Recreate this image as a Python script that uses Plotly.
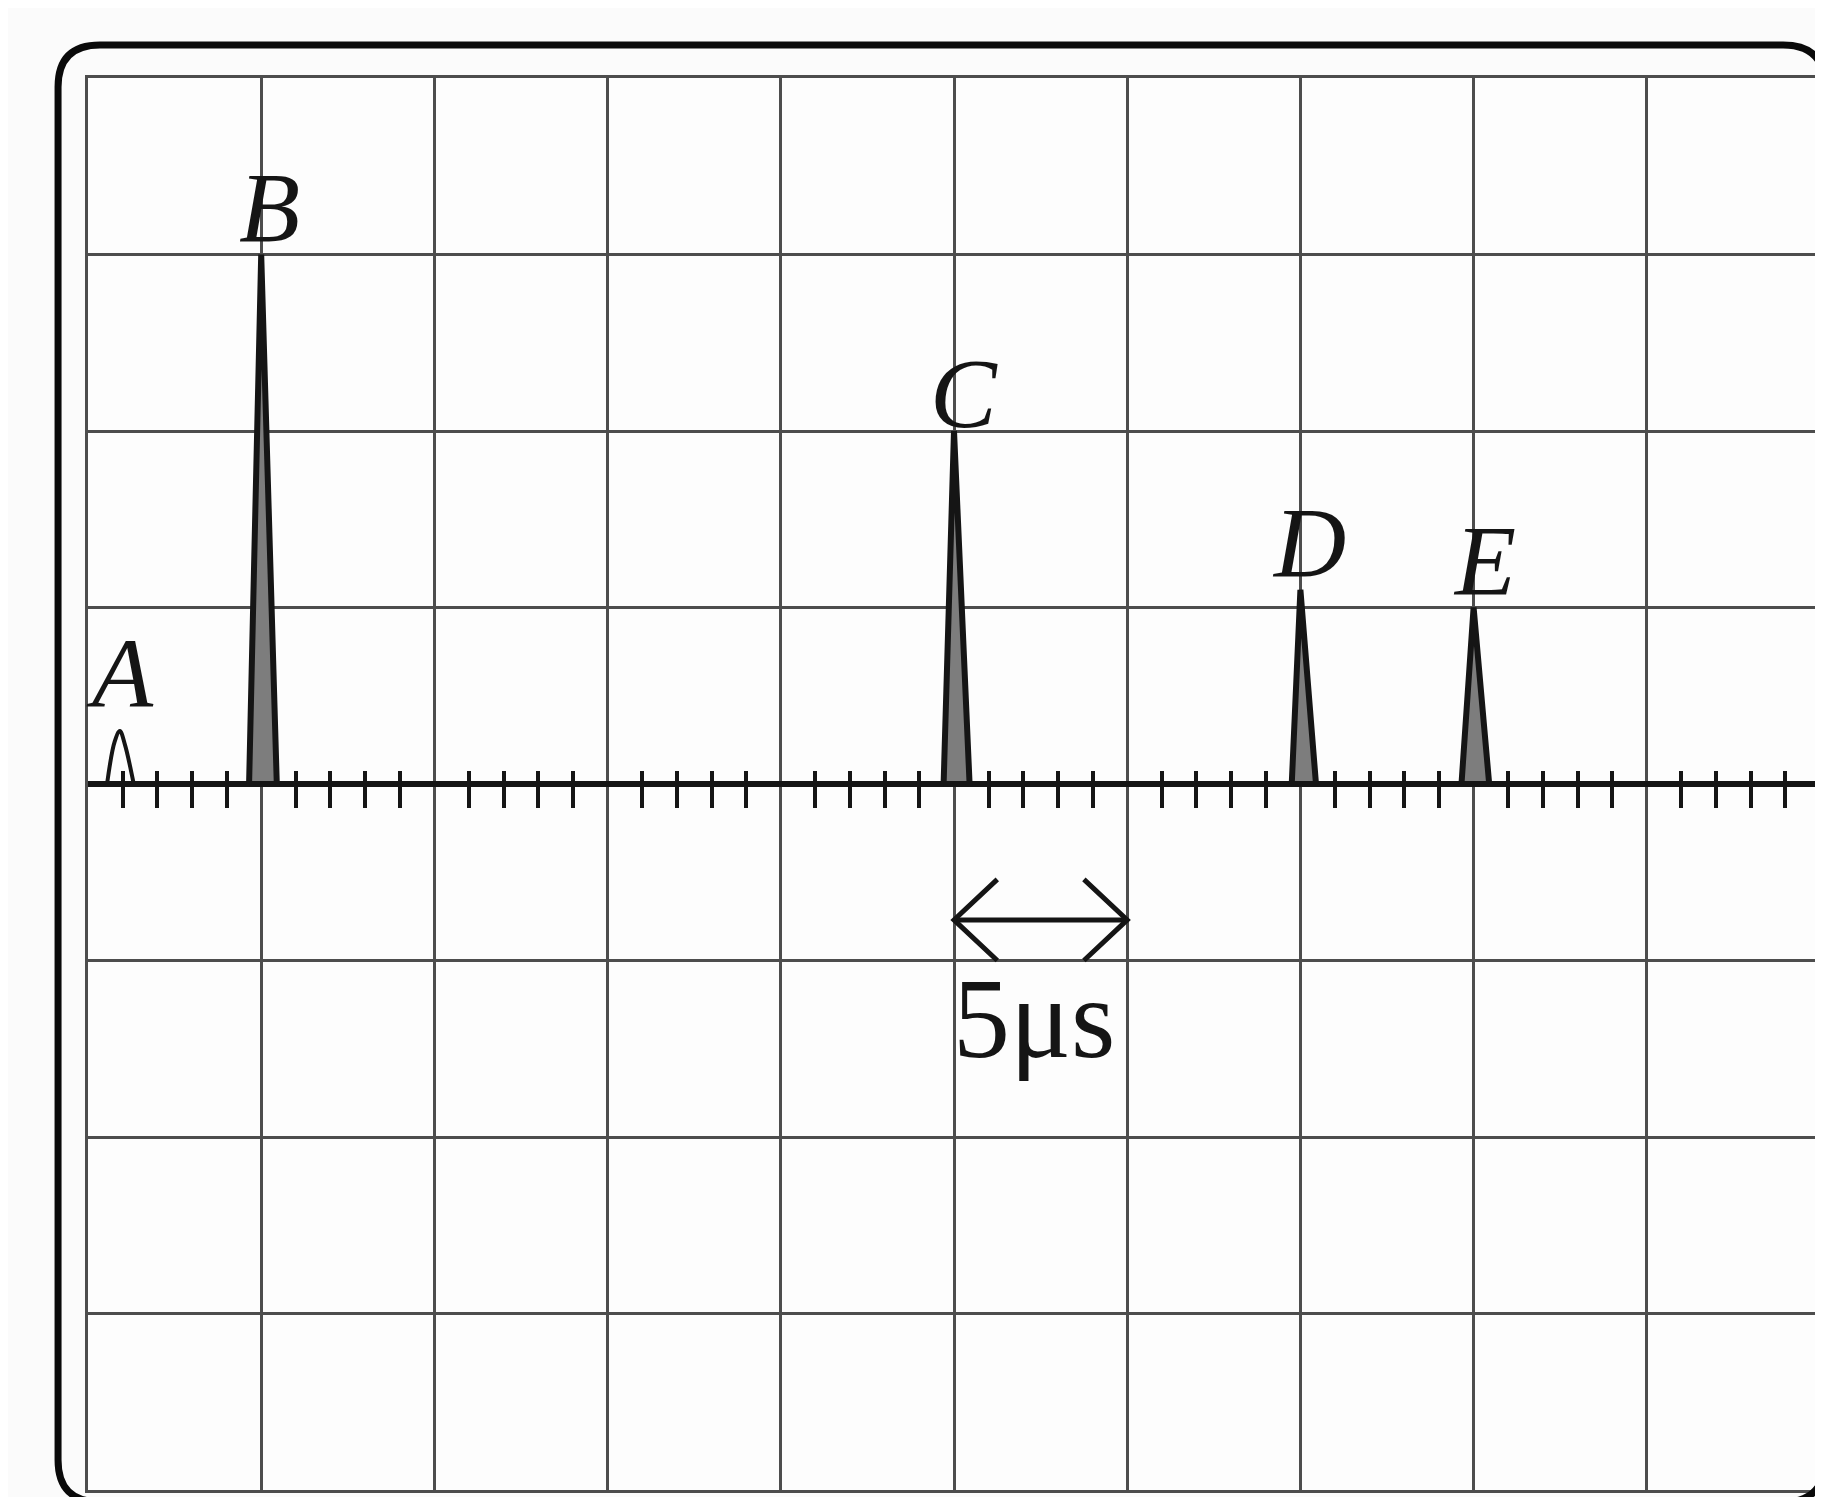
import plotly.graph_objects as go

# oscilloscope screen, 10 x 8 divisions, time base 5 us / div
SWEEP_US = [0, 50]
SCREEN_DIV = [-4, 4]
US_PER_DIV = 5

# echo pulses (time in us, height in divisions)
PULSE_LABELS = ["B", "C", "D", "E"]
PULSE_PEAK_US = [5.0, 25.0, 35.0, 40.0]
PULSE_HEIGHT_DIV = [3.0, 2.0, 1.1, 1.0]
PULSE_START_US = [4.65, 24.7, 34.75, 39.65]
PULSE_END_US = [5.45, 25.45, 35.45, 40.45]

# small blip A at the start of the sweep
BLIP_LABEL = "A"
BLIP_T_US = [0.55, 0.77, 0.92, 1.07, 1.32]
BLIP_V_DIV = [0, 0.24, 0.3, 0.22, 0]

# scale bar under C
SCALE_BAR_US = [25, 30]
SCALE_BAR_TEXT = "5μs"

W, H = 1823, 1497
M = dict(l=80, r=8, t=70, b=15)
GRID = "#4d4d4d"
INK = "#151515"
SERIF = "Liberation Serif"

pw = W - M["l"] - M["r"]
ph = H - M["t"] - M["b"]


def paper_x(px):
    return (px - M["l"]) / pw


def paper_y(py):
    return (H - M["b"] - py) / ph


fig = go.Figure()

# trace baseline
fig.add_trace(go.Scatter(x=SWEEP_US, y=[0, 0], mode="lines",
                         line=dict(color=INK, width=6), hoverinfo="skip"))

# pulses, drawn as thin filled spikes
for start, peak, end, h in zip(PULSE_START_US, PULSE_PEAK_US, PULSE_END_US, PULSE_HEIGHT_DIV):
    fig.add_trace(go.Scatter(
        x=[start, peak, end, start], y=[0, h, 0, 0],
        mode="lines", fill="toself", fillcolor="#7d7d7d",
        line=dict(color=INK, width=6), hoverinfo="skip"))

fig.add_trace(go.Scatter(x=BLIP_T_US, y=BLIP_V_DIV, mode="lines",
                         line=dict(color=INK, width=4, shape="spline"),
                         hoverinfo="skip"))

# dummy traces so the tick-mark axes get drawn
for ax in ["x2", "x3"]:
    fig.add_trace(go.Scatter(x=SWEEP_US, y=[0, 0], xaxis=ax, yaxis="y",
                             mode="lines", line=dict(width=0), hoverinfo="skip"))

# labels (pixel nudges so the italic letters sit on the peaks like in the print)
label_xshift = {"A": 0, "B": 8, "C": 10, "D": 9, "E": 11}
label_yshift = {"A": 0, "B": -10, "C": -20, "D": -10, "E": -10}
labels = [(BLIP_LABEL, BLIP_T_US[2], max(BLIP_V_DIV))] + list(zip(PULSE_LABELS, PULSE_PEAK_US, PULSE_HEIGHT_DIV))
for name, t, h in labels:
    fig.add_annotation(x=t, y=h, text="<i>%s</i>" % name, showarrow=False,
                       xanchor="center", yanchor="bottom",
                       xshift=label_xshift[name], yshift=label_yshift[name],
                       font=dict(family=SERIF, size=100, color=INK))

# 5 us scale arrow
ya = -0.77
x0, x1 = SCALE_BAR_US
hx, hy = 1.25, 0.23
fig.add_shape(type="line", x0=x0, x1=x1, y0=ya, y1=ya, line=dict(color=INK, width=5))
fig.add_shape(type="path", path=f"M {x0 + hx},{ya + hy} L {x0},{ya} L {x0 + hx},{ya - hy}",
              line=dict(color=INK, width=5))
fig.add_shape(type="path", path=f"M {x1 - hx},{ya + hy} L {x1},{ya} L {x1 - hx},{ya - hy}",
              line=dict(color=INK, width=5))
fig.add_annotation(x=(x0 + x1) / 2, y=-1.0, text=SCALE_BAR_TEXT, showarrow=False,
                   xanchor="center", yanchor="top", xshift=-7, yshift=8,
                   font=dict(family=SERIF, size=114, color=INK))

# rounded bezel around the screen
bx0, bx1 = paper_x(50), paper_x(1820)
by0, by1 = paper_y(1494), paper_y(37)
rx, ry = 42 / pw, 42 / ph
bezel = (f"M {bx0},{by1 - ry} Q {bx0},{by1} {bx0 + rx},{by1} "
         f"L {bx1 - rx},{by1} Q {bx1},{by1} {bx1},{by1 - ry} "
         f"L {bx1},{by0 + ry} Q {bx1},{by0} {bx1 - rx},{by0} "
         f"L {bx0 + rx},{by0} Q {bx0},{by0} {bx0},{by0 + ry} Z")
fig.add_shape(type="path", xref="paper", yref="paper", path=bezel,
              line=dict(color="#0a0a0a", width=7))

tick_axis = dict(overlaying="x", anchor="free", position=0.5, range=SWEEP_US,
                 showgrid=False, showline=False, zeroline=False, showticklabels=False,
                 ticks="", tick0=0, dtick=US_PER_DIV)

fig.update_layout(
    width=W, height=H, margin=M,
    paper_bgcolor="#fbfbfb", plot_bgcolor="#fdfdfd",
    showlegend=False,
    xaxis=dict(range=SWEEP_US, tick0=0, dtick=US_PER_DIV, showgrid=True,
               gridcolor=GRID, gridwidth=2.5, showline=True, mirror=True,
               linecolor=GRID, linewidth=2.5, zeroline=False,
               showticklabels=False, ticks=""),
    yaxis=dict(range=SCREEN_DIV, tick0=0, dtick=1, showgrid=True,
               gridcolor=GRID, gridwidth=2.5, showline=True, mirror=True,
               linecolor=GRID, linewidth=2.5, zeroline=False,
               showticklabels=False, ticks=""),
    xaxis2=dict(tick_axis, minor=dict(dtick=1, tick0=0, ticks="outside", ticklen=23,
                                      tickwidth=3.5, tickcolor=INK, showgrid=False)),
    xaxis3=dict(tick_axis, minor=dict(dtick=1, tick0=0, ticks="inside", ticklen=13,
                                      tickwidth=3.5, tickcolor=INK, showgrid=False)),
)

fig.write_html("out.html")
